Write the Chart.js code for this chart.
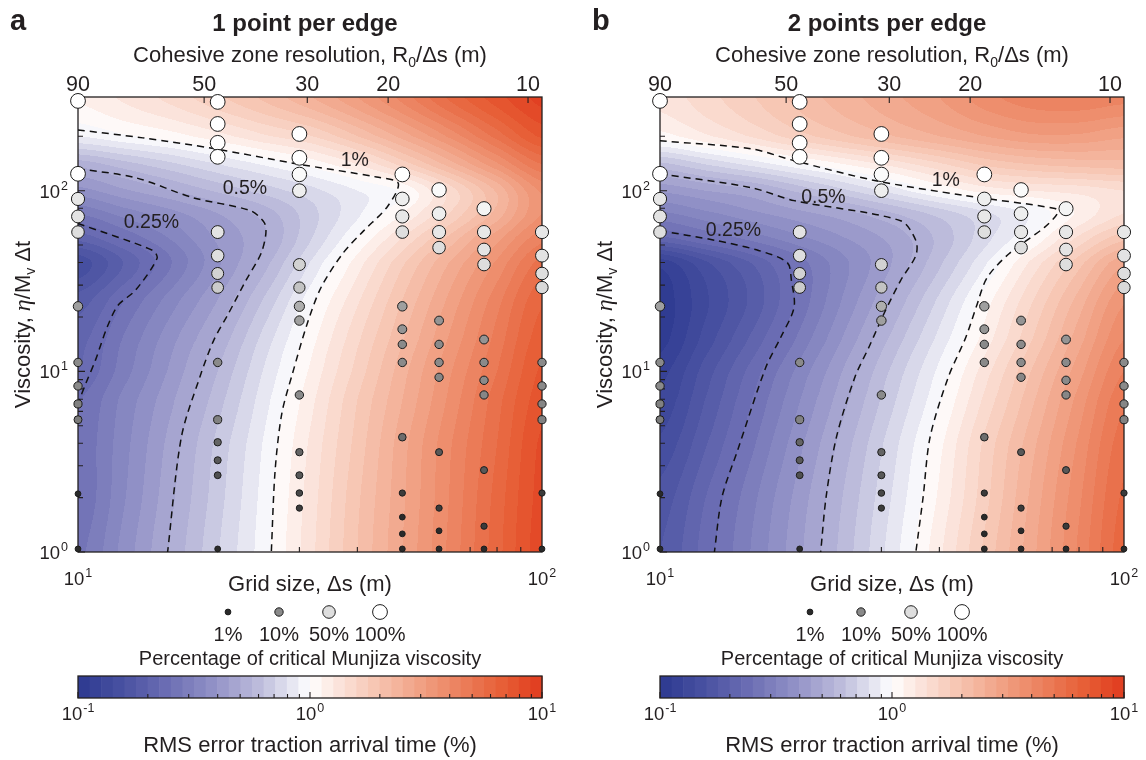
<!DOCTYPE html>
<html>
<head>
<meta charset="utf-8">
<script src="https://cdn.jsdelivr.net/npm/chart.js@4.4.1/dist/chart.umd.min.js"></script>
<style>
  body { margin: 0; background: #fff; width: 1146px; height: 760px; overflow: hidden; position: relative; }
  canvas { position: absolute; }
</style>
</head>
<body>
<canvas id="mainA" width="573" height="674" style="left:0;top:0"></canvas>
<canvas id="cbA" width="573" height="86" style="left:0;top:674px"></canvas>
<canvas id="mainB" width="573" height="674" style="left:582px;top:0"></canvas>
<canvas id="cbB" width="573" height="86" style="left:582px;top:674px"></canvas>
<script>
const FONT = '"Liberation Sans", Arial, Helvetica, sans-serif';
const INK = '#231f20';

// ---- error field (log10 of RMS error in %) ----
const fieldGridSizes = [10, 12.5, 16, 20, 25, 32, 40, 50, 63, 80, 100];
const fieldViscosity = [1, 2, 4, 7, 10, 15, 25, 40, 55, 75, 100, 140, 200, 330];

const logErrorA = [
  [-0.565, -0.433, -0.287, -0.155, -0.024, 0.14, 0.30, 0.45, 0.61, 0.78, 0.93],
  [-0.594, -0.458, -0.307, -0.171, -0.034, 0.13, 0.29, 0.44, 0.60, 0.77, 0.92],
  [-0.59, -0.47, -0.326, -0.186, -0.049, 0.115, 0.27, 0.43, 0.59, 0.75, 0.91],
  [-0.605, -0.487, -0.356, -0.222, -0.075, 0.09, 0.25, 0.40, 0.56, 0.73, 0.88],
  [-0.65, -0.524, -0.384, -0.25, -0.10, 0.065, 0.22, 0.38, 0.54, 0.70, 0.86],
  [-0.67, -0.547, -0.413, -0.289, -0.135, 0.035, 0.19, 0.345, 0.505, 0.67, 0.83],
  [-0.73, -0.606, -0.472, -0.35, -0.20, -0.016, 0.14, 0.30, 0.46, 0.63, 0.79],
  [-0.83, -0.70, -0.547, -0.41, -0.276, -0.09, 0.075, 0.24, 0.40, 0.56, 0.72],
  [-0.68, -0.59, -0.49, -0.39, -0.31, -0.15, 0.0, 0.15, 0.31, 0.48, 0.63],
  [-0.546, -0.48, -0.415, -0.35, -0.28, -0.165, -0.06, 0.05, 0.20, 0.37, 0.55],
  [-0.42, -0.36, -0.30, -0.24, -0.18, -0.115, -0.05, 0.01, 0.17, 0.36, 0.56],
  [-0.28, -0.223, -0.16, -0.10, -0.045, 0.02, 0.1, 0.22, 0.37, 0.54, 0.70],
  [-0.05, -0.01, 0.03, 0.08, 0.14, 0.2, 0.3, 0.42, 0.56, 0.72, 0.86],
  [0.06, 0.11, 0.17, 0.24, 0.31, 0.40, 0.5, 0.62, 0.76, 0.88, 0.97]
];

const logErrorB = [
  [-0.75, -0.627, -0.488, -0.36, -0.226, -0.069, 0.088, 0.26, 0.43, 0.61, 0.78],
  [-0.78, -0.652, -0.508, -0.377, -0.243, -0.09, 0.06, 0.23, 0.41, 0.59, 0.76],
  [-0.84, -0.707, -0.553, -0.413, -0.273, -0.115, 0.035, 0.21, 0.38, 0.56, 0.73],
  [-0.89, -0.75, -0.592, -0.452, -0.313, -0.155, -0.008, 0.16, 0.335, 0.52, 0.69],
  [-0.92, -0.778, -0.622, -0.482, -0.342, -0.183, -0.037, 0.125, 0.30, 0.48, 0.65],
  [-0.97, -0.83, -0.68, -0.536, -0.39, -0.23, -0.083, 0.07, 0.245, 0.43, 0.60],
  [-0.98, -0.86, -0.73, -0.584, -0.44, -0.29, -0.14, 0.02, 0.19, 0.37, 0.54],
  [-0.93, -0.81, -0.69, -0.572, -0.46, -0.343, -0.21, -0.06, 0.11, 0.28, 0.44],
  [-0.66, -0.595, -0.525, -0.46, -0.40, -0.33, -0.235, -0.12, 0.0, 0.16, 0.28],
  [-0.51, -0.463, -0.41, -0.365, -0.318, -0.25, -0.18, -0.11, -0.04, 0.06, 0.15],
  [-0.39, -0.35, -0.307, -0.235, -0.16, -0.075, 0.006, 0.07, 0.1, 0.12, 0.15],
  [-0.215, -0.15, -0.08, -0.013, 0.05, 0.12, 0.19, 0.26, 0.3, 0.32, 0.33],
  [0.03, 0.09, 0.16, 0.23, 0.29, 0.35, 0.4, 0.45, 0.49, 0.49, 0.46],
  [0.12, 0.18, 0.25, 0.32, 0.38, 0.44, 0.5, 0.58, 0.63, 0.64, 0.62]
];

// ---- simulations (grid size, viscosity, % of critical Munjiza viscosity) ----
const simGridSizes = [10, 20, 30, 50, 60, 75, 100];
const simViscosity = [
  [314, 124, 90, 72, 59, 22.9, 11.2, 8.3, 6.6, 5.4, 2.1, 1.04],
  [310, 234, 184, 154, 59, 43.7, 34.8, 29.1, 11.2, 5.4, 4.05, 3.22, 2.66, 1.04],
  [206, 152, 123, 100, 39, 29.1, 22.9, 19.1, 7.4, 3.57, 2.66, 2.12, 1.75],
  [123, 90, 72, 59, 22.9, 17.1, 14.1, 11.2, 4.32, 2.12, 1.56, 1.26, 1.04],
  [101, 74.6, 59, 48.4, 19.1, 14.1, 11.2, 9.27, 3.57, 1.75, 1.31, 1.04],
  [79.5, 59, 47.2, 39, 15, 11.2, 8.92, 7.4, 2.84, 1.39, 1.04],
  [59, 43.7, 34.8, 29.1, 11.2, 8.3, 6.6, 5.4, 2.12, 1.04]
];
const simPercent = [
  [100, 100, 60, 55, 50, 15, 10, 10, 8, 7, 1, 1],
  [100, 100, 100, 100, 55, 50, 40, 35, 10, 8, 4, 3, 2.5, 1],
  [100, 100, 90, 70, 40, 30, 20, 15, 10, 4, 3, 2, 1.5],
  [100, 70, 60, 50, 15, 12, 10, 10, 5, 1.5, 1, 1, 1],
  [90, 70, 60, 50, 12, 10, 10, 9, 3, 1.5, 1, 1],
  [80, 60, 55, 50, 12, 10, 10, 9, 3, 1.5, 1],
  [60, 55, 50, 45, 10, 10, 9, 8, 1.5, 1]
];

// ---- dashed contours [grid size, viscosity] ----
const contourA1 = [[10, 217], [13.8, 196], [19.6, 171], [29.5, 141], [44, 119], [49, 110], [46.5, 82], [41.3, 60.1], [37.2, 44.9], [33.4, 29.1], [31.2, 18.4], [29.0, 9.75], [27.5, 5.86], [26.6, 2.84], [26.1, 1.0]];
const contourA05 = [[10, 132.4], [13.3, 118], [17.7, 91.4], [23.5, 77.6], [25.2, 66.5], [25.4, 57.8], [24.8, 44.9], [23.0, 31.8], [21.1, 20.9], [19.6, 14.8], [18.3, 9.27], [16.7, 4.32], [15.6, 1.0]];
const contourA025 = [[10, 65.8], [14.5, 46.7], [14.8, 42.1], [13.3, 28.1], [12.2, 23.2], [11.55, 17.5], [10.9, 11.5], [10.4, 8.59], [10, 6.65]];
const contourB1 = [[10, 188.8], [15.7, 170.6], [19.45, 146.6], [29.2, 113.5], [45.6, 93.8], [71.0, 79.6], [71.8, 74.6], [67.3, 62.5], [56.6, 44.9], [50.7, 33.0], [48.0, 22.6], [45.6, 15.4], [41.8, 9.27], [38.2, 4.32], [36.9, 2.01], [35.6, 1.0]];
const contourB05 = [[10, 124], [15.7, 104], [19.45, 88.1], [33.0, 68.2], [35.6, 53.0], [35.6, 43.8], [33.0, 31.8], [30.4, 20.9], [28.2, 13.6], [26.3, 9.27], [24.0, 4.32], [22.8, 2.01], [22.2, 1.0]];
const contourB025 = [[10, 60.1], [13.2, 53.0], [16.3, 46.7], [18.8, 40.0], [19.2, 31.8], [19.45, 22.6], [18.2, 15.4], [16.9, 10.5], [14.7, 3.66], [13.6, 2.01], [13.1, 1.0]];

const contourLabelText = ['1%', '0.5%', '0.25%'];
const contourLabelA = [[39.5, 146.5], [22.9, 102.6], [14.4, 66.5]];
const contourLabelB = [[41.3, 113.6], [22.5, 91.5], [14.4, 60.1]];

// ---- axes ----
const xTickValues = [10, 100];
const xTickExp = ['1', '2'];
const yTickValues = [1, 10, 100];
const yTickExp = ['0', '1', '2'];
const topTickGridSizes = [10, 18.7, 31.2, 46.6, 93.3];
const topTickLabels = ['90', '50', '30', '20', '10'];
const legendPercent = [1, 10, 50, 100];
const legendLabels = ['1%', '10%', '50%', '100%'];
const colorbarTicks = [0.1, 1, 10];
const colorbarTickExp = ['-1', '0', '1'];

// ---- styling helpers ----
const cmapStops = [
  [-1, '#2c3990'], [-0.8, '#4a52a2'], [-0.6, '#6e70b5'], [-0.4, '#9594c8'],
  [-0.2, '#c2c1de'], [-0.05, '#eeeef6'], [0, '#ffffff'], [0.1, '#fce8e1'],
  [0.3, '#f6c2ae'], [0.5, '#f09c7e'], [0.7, '#ea7651'], [0.85, '#e65a32'], [1, '#e03b1f']
];
const LEVEL_STEP = 0.05;

function hexRgb(h) {
  return [parseInt(h.slice(1, 3), 16), parseInt(h.slice(3, 5), 16), parseInt(h.slice(5, 7), 16)];
}
function cmap(v) {
  v = Math.max(-1, Math.min(1, v));
  for (let i = 0; i < cmapStops.length - 1; i++) {
    const [a, ca] = cmapStops[i], [b, cb] = cmapStops[i + 1];
    if (v <= b) {
      const t = (v - a) / (b - a), A = hexRgb(ca), B = hexRgb(cb);
      return A.map((x, k) => Math.round(x + (B[k] - x) * t));
    }
  }
  return hexRgb(cmapStops[cmapStops.length - 1][1]);
}
function bandColor(v) {
  const k = Math.floor(v / LEVEL_STEP);
  return cmap((k + 0.5) * LEVEL_STEP);
}

function markerStyle(pct) {
  const a = [[1, 2.9, 42], [10, 4.2, 138], [50, 6.3, 222], [100, 7.4, 255]];
  const lp = Math.log10(pct);
  let i = 0;
  while (i < a.length - 2 && lp > Math.log10(a[i + 1][0])) i++;
  const l0 = Math.log10(a[i][0]), l1 = Math.log10(a[i + 1][0]);
  const t = Math.max(0, Math.min(1, (lp - l0) / (l1 - l0)));
  const r = a[i][1] + (a[i + 1][1] - a[i][1]) * t;
  const g = Math.round(a[i][2] + (a[i + 1][2] - a[i][2]) * t);
  return { r, fill: `rgb(${g},${g},${g})` };
}

function locate(nodes, value) {
  let i = 0;
  while (i < nodes.length - 2 && value > nodes[i + 1]) i++;
  const t = Math.max(0, Math.min(1, (value - nodes[i]) / (nodes[i + 1] - nodes[i])));
  return { i, t };
}
function catmull(p0, p1, p2, p3, t) {
  return 0.5 * (2 * p1 + (-p0 + p2) * t + (2 * p0 - 5 * p1 + 4 * p2 - p3) * t * t + (-p0 + 3 * p1 - 3 * p2 + p3) * t * t * t);
}
function sampleField(grid, ix, iy) {
  const ny = grid.length, nx = grid[0].length;
  const rows = [];
  for (let k = -1; k <= 2; k++) {
    const r = grid[Math.min(ny - 1, Math.max(0, iy.i + k))];
    const c = j => r[Math.min(nx - 1, Math.max(0, j))];
    rows.push(catmull(c(ix.i - 1), c(ix.i), c(ix.i + 1), c(ix.i + 2), ix.t));
  }
  return catmull(rows[0], rows[1], rows[2], rows[3], iy.t);
}

function drawPow(ctx, exp, cx, by, align) {
  ctx.font = `18.5px ${FONT}`;
  const wb = ctx.measureText('10').width;
  ctx.font = `12.5px ${FONT}`;
  const we = ctx.measureText(exp).width;
  const total = wb + we + 1;
  const x0 = align === 'right' ? cx - total : cx - total / 2;
  ctx.textAlign = 'left';
  ctx.textBaseline = 'alphabetic';
  ctx.font = `18.5px ${FONT}`;
  ctx.fillText('10', x0, by);
  ctx.font = `12.5px ${FONT}`;
  ctx.fillText(exp, x0 + wb + 1, by - 8);
}

function drawRuns(ctx, runs, cx, by) {
  let total = 0;
  runs.forEach(r => { ctx.font = r.font; r.w = ctx.measureText(r.text).width; total += r.w; });
  let x = cx - total / 2;
  ctx.textAlign = 'left';
  ctx.textBaseline = 'alphabetic';
  runs.forEach(r => { ctx.font = r.font; ctx.fillText(r.text, x, by + (r.dy || 0)); x += r.w; });
}

function minorLogTicks(lo, hi) {
  const out = [];
  for (let e = Math.floor(Math.log10(lo)); e <= Math.ceil(Math.log10(hi)); e++) {
    for (let m = 2; m <= 9; m++) {
      const v = m * Math.pow(10, e);
      if (v > lo && v < hi) out.push(v);
    }
  }
  return out;
}

// ---- panel ----
function buildPanel(id, letter, title, logError, contours, labelPos) {
  const fieldX = fieldGridSizes.map(Math.log10);
  const fieldY = fieldViscosity.map(Math.log10);

  const pts = [], radii = [], fills = [];
  simGridSizes.forEach((ds, c) => simViscosity[c].forEach((eta, k) => {
    const m = markerStyle(simPercent[c][k]);
    pts.push({ x: ds, y: eta });
    radii.push(m.r);
    fills.push(m.fill);
  }));

  const datasets = [{
    data: pts, pointRadius: radii, pointBackgroundColor: fills,
    pointBorderColor: '#1d1d1d', pointBorderWidth: 1, clip: false, showLine: false
  }];
  contours.forEach(c => datasets.push({
    data: c.map(p => ({ x: p[0], y: p[1] })), showLine: true, borderColor: '#111',
    borderWidth: 1.5, borderDash: [7, 5], pointRadius: 0, tension: 0.3, fill: false
  }));

  const fieldPlugin = {
    id: 'field',
    beforeDatasetsDraw(chart) {
      const ctx = chart.ctx;
      const { left, top, right, bottom } = chart.chartArea;
      const xs = chart.scales.x, ys = chart.scales.y;
      const w = Math.round(right - left), h = Math.round(bottom - top);
      const off = document.createElement('canvas');
      off.width = w; off.height = h;
      const octx = off.getContext('2d');
      const img = octx.createImageData(w, h);
      const cols = [], rows = [];
      for (let px = 0; px < w; px++) cols.push(locate(fieldX, Math.log10(xs.getValueForPixel(left + px + 0.5))));
      for (let py = 0; py < h; py++) rows.push(locate(fieldY, Math.log10(ys.getValueForPixel(top + py + 0.5))));
      for (let py = 0; py < h; py++) {
        for (let px = 0; px < w; px++) {
          const c = bandColor(sampleField(logError, cols[px], rows[py]));
          const o = (py * w + px) * 4;
          img.data[o] = c[0]; img.data[o + 1] = c[1]; img.data[o + 2] = c[2]; img.data[o + 3] = 255;
        }
      }
      octx.putImageData(img, 0, 0);
      ctx.drawImage(off, left, top);

      // frame and inward ticks
      ctx.save();
      ctx.strokeStyle = INK;
      ctx.lineWidth = 1.3;
      ctx.strokeRect(left, top, right - left, bottom - top);
      ctx.lineWidth = 1.1;
      ctx.beginPath();
      minorLogTicks(1, 330).forEach(v => { const y = ys.getPixelForValue(v); ctx.moveTo(left, y); ctx.lineTo(left + 5, y); });
      yTickValues.forEach(v => { const y = ys.getPixelForValue(v); ctx.moveTo(left, y); ctx.lineTo(left + 7, y); });
      minorLogTicks(10, 100).forEach(v => { const x = xs.getPixelForValue(v); ctx.moveTo(x, bottom); ctx.lineTo(x, bottom - 5); });
      const x2 = chart.scales.x2;
      topTickGridSizes.forEach(v => { const x = x2.getPixelForValue(v); ctx.moveTo(x, top); ctx.lineTo(x, top + 6); });
      ctx.stroke();
      ctx.restore();
    },
    afterDraw(chart) {
      const ctx = chart.ctx;
      const { left, right, bottom } = chart.chartArea;
      const xs = chart.scales.x, ys = chart.scales.y, x2 = chart.scales.x2;
      const cx = (left + right) / 2;
      ctx.save();
      ctx.fillStyle = INK;

      ctx.font = `bold 29px ${FONT}`;
      ctx.textAlign = 'left';
      ctx.textBaseline = 'alphabetic';
      ctx.fillText(letter, 10, 30);

      ctx.font = `bold 24px ${FONT}`;
      ctx.textAlign = 'center';
      ctx.fillText(title, cx - 5, 31);

      drawRuns(ctx, [
        { text: 'Cohesive zone resolution, R', font: `22px ${FONT}` },
        { text: '0', font: `14px ${FONT}`, dy: 5 },
        { text: '/\u0394s (m)', font: `22px ${FONT}` }
      ], cx, 62);

      ctx.font = `21.5px ${FONT}`;
      ctx.textAlign = 'center';
      topTickGridSizes.forEach((v, i) => ctx.fillText(topTickLabels[i], x2.getPixelForValue(v), 91));

      yTickValues.forEach((v, i) => drawPow(ctx, yTickExp[i], 68, ys.getPixelForValue(v) + 7, 'right'));
      xTickValues.forEach((v, i) => drawPow(ctx, xTickExp[i], xs.getPixelForValue(v), bottom + 33, 'center'));

      drawRuns(ctx, [{ text: 'Grid size, \u0394s (m)', font: `22px ${FONT}` }], cx, bottom + 39);

      // y axis title
      ctx.save();
      ctx.translate(30, (chart.chartArea.top + bottom) / 2);
      ctx.rotate(-Math.PI / 2);
      drawRuns(ctx, [
        { text: 'Viscosity, ', font: `22px ${FONT}` },
        { text: '\u03b7', font: `italic 24px "Liberation Serif", "DejaVu Serif", serif` },
        { text: '/M', font: `22px ${FONT}` },
        { text: 'v', font: `14px ${FONT}`, dy: 5 },
        { text: ' \u0394t', font: `22px ${FONT}` }
      ], 0, 0);
      ctx.restore();

      // contour labels
      ctx.font = `19.5px ${FONT}`;
      ctx.textAlign = 'center';
      ctx.textBaseline = 'middle';
      labelPos.forEach((p, i) => ctx.fillText(contourLabelText[i], xs.getPixelForValue(p[0]), ys.getPixelForValue(p[1])));

      // marker legend
      const legendX = [228, 279, 329, 380];
      legendPercent.forEach((pct, i) => {
        const m = markerStyle(pct);
        ctx.beginPath();
        ctx.arc(legendX[i], 612, m.r, 0, Math.PI * 2);
        ctx.fillStyle = m.fill;
        ctx.fill();
        ctx.lineWidth = 1;
        ctx.strokeStyle = '#1d1d1d';
        ctx.stroke();
        ctx.fillStyle = INK;
        ctx.font = `20px ${FONT}`;
        ctx.textBaseline = 'alphabetic';
        ctx.textAlign = 'center';
        ctx.fillText(legendLabels[i], legendX[i], 641);
      });
      drawRuns(ctx, [{ text: 'Percentage of critical Munjiza viscosity', font: `20px ${FONT}` }], cx, 665);
      ctx.restore();
    }
  };

  return new Chart(document.getElementById(id), {
    type: 'scatter',
    data: { datasets },
    options: {
      responsive: false,
      animation: false,
      events: [],
      devicePixelRatio: 1,
      layout: { padding: { left: 0, right: 31, top: 0, bottom: 0 } },
      plugins: { legend: { display: false }, tooltip: { enabled: false } },
      scales: {
        x: {
          type: 'logarithmic', position: 'bottom', min: 10, max: 100, bounds: 'data',
          grid: { display: false }, border: { display: false }, ticks: { display: false },
          afterFit: s => { s.height = 674 - 552; }
        },
        x2: {
          type: 'logarithmic', axis: 'x', position: 'top', min: 10, max: 100, bounds: 'data',
          grid: { display: false }, border: { display: false }, ticks: { display: false },
          afterFit: s => { s.height = 97; }
        },
        y: {
          type: 'logarithmic', position: 'left', min: 1, max: 330, bounds: 'data',
          grid: { display: false }, border: { display: false }, ticks: { display: false },
          afterFit: s => { s.width = 78; }
        }
      }
    },
    plugins: [fieldPlugin]
  });
}

function buildColorbar(id) {
  const cbPlugin = {
    id: 'colorbar',
    beforeDatasetsDraw(chart) {
      const ctx = chart.ctx;
      const { left, top, right, bottom } = chart.chartArea;
      const xs = chart.scales.x;
      for (let lo = -1; lo < 1 - 1e-9; lo += LEVEL_STEP) {
        const x0 = xs.getPixelForValue(Math.pow(10, lo));
        const x1 = xs.getPixelForValue(Math.pow(10, lo + LEVEL_STEP));
        const c = cmap(lo + LEVEL_STEP / 2);
        ctx.fillStyle = `rgb(${c[0]},${c[1]},${c[2]})`;
        ctx.fillRect(x0, top, x1 - x0 + 0.6, bottom - top);
      }
      ctx.save();
      ctx.strokeStyle = INK;
      ctx.lineWidth = 1.3;
      ctx.strokeRect(left, top, right - left, bottom - top);
      ctx.lineWidth = 1.1;
      ctx.beginPath();
      minorLogTicks(0.1, 10).forEach(v => { const x = xs.getPixelForValue(v); ctx.moveTo(x, bottom); ctx.lineTo(x, bottom - 4); });
      colorbarTicks.forEach(v => { const x = xs.getPixelForValue(v); ctx.moveTo(x, bottom); ctx.lineTo(x, bottom - 6); });
      ctx.stroke();
      ctx.restore();
    },
    afterDraw(chart) {
      const ctx = chart.ctx;
      const { left, right, bottom } = chart.chartArea;
      const xs = chart.scales.x;
      ctx.save();
      ctx.fillStyle = INK;
      colorbarTicks.forEach((v, i) => drawPow(ctx, colorbarTickExp[i], xs.getPixelForValue(v), bottom + 22, 'center'));
      drawRuns(ctx, [{ text: 'RMS error traction arrival time (%)', font: `22px ${FONT}` }], (left + right) / 2, bottom + 54);
      ctx.restore();
    }
  };
  return new Chart(document.getElementById(id), {
    type: 'scatter',
    data: { datasets: [] },
    options: {
      responsive: false,
      animation: false,
      events: [],
      devicePixelRatio: 1,
      layout: { padding: { left: 78, right: 31, top: 2, bottom: 0 } },
      plugins: { legend: { display: false }, tooltip: { enabled: false } },
      scales: {
        x: {
          type: 'logarithmic', min: 0.1, max: 10, bounds: 'data',
          grid: { display: false }, border: { display: false }, ticks: { display: false },
          afterFit: s => { s.height = 62; }
        },
        y: { display: false, min: 0, max: 1 }
      }
    },
    plugins: [cbPlugin]
  });
}

buildPanel('mainA', 'a', '1 point per edge', logErrorA, [contourA1, contourA05, contourA025], contourLabelA);
buildPanel('mainB', 'b', '2 points per edge', logErrorB, [contourB1, contourB05, contourB025], contourLabelB);
buildColorbar('cbA');
buildColorbar('cbB');
</script>
</body>
</html>
